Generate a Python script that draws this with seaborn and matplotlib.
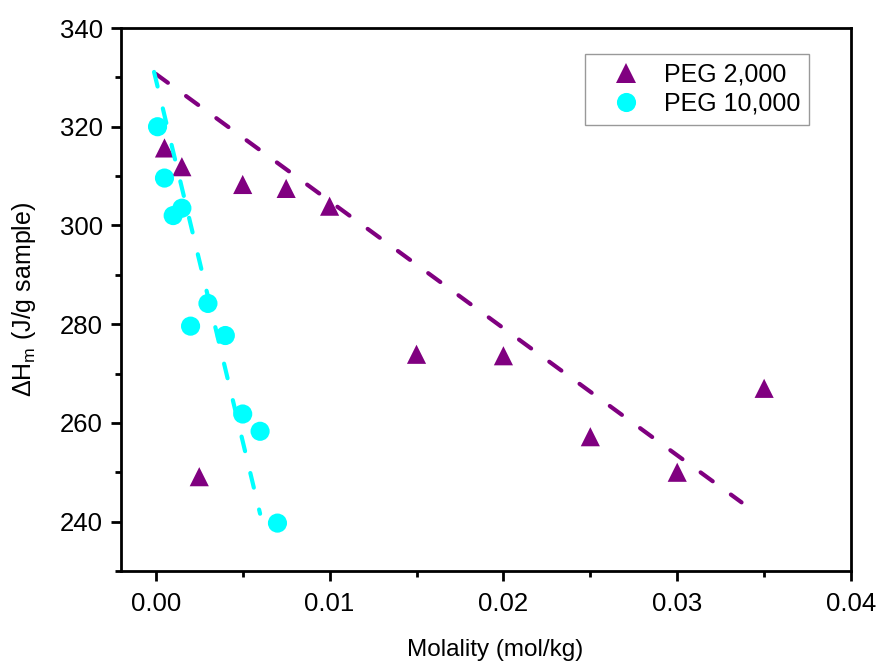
import pandas as pd
import matplotlib
matplotlib.use('Agg')
import matplotlib.pyplot as plt
from matplotlib.ticker import MultipleLocator, FormatStrFormatter
import seaborn as sns

# PEG 2,000 measurements
peg2k_x = [0.0005, 0.0015, 0.0025, 0.005, 0.0075, 0.01, 0.015, 0.02, 0.025, 0.03, 0.035]
peg2k_y = [315.7, 311.9, 249.1, 308.3, 307.5, 303.9, 273.9, 273.6, 257.2, 250.0, 267.0]

# PEG 10,000 measurements
peg10k_x = [0.0001, 0.0005, 0.001, 0.0015, 0.002, 0.003, 0.004, 0.005, 0.006, 0.007]
peg10k_y = [320.0, 309.6, 302.0, 303.5, 279.6, 284.2, 277.7, 261.8, 258.3, 239.7]

# dashed trend lines (end points)
fit2k_x = [0.0, 0.0337]
fit2k_y = [330.7, 243.9]
fit10k_x = [-0.0001, 0.006]
fit10k_y = [331.1, 241.6]

labels = ['PEG 2,000', 'PEG 10,000']
colors = ['#800080', '#00FFFF']

df = pd.DataFrame({
    'x': peg2k_x + peg10k_x,
    'y': peg2k_y + peg10k_y,
    'series': [labels[0]] * len(peg2k_x) + [labels[1]] * len(peg10k_x),
})

sns.set_style('white')
plt.rcParams['font.family'] = ['Liberation Sans', 'DejaVu Sans']
plt.rcParams['mathtext.default'] = 'regular'
plt.rcParams['text.color'] = 'black'
plt.rcParams['axes.labelcolor'] = 'black'

fig = plt.figure(figsize=(8.79, 6.62), dpi=100)
ax = fig.add_axes([0.1377, 0.1375, 0.8305, 0.8202])

sns.lineplot(x=fit2k_x, y=fit2k_y, ax=ax, color=colors[0], linewidth=3.0, legend=False)
sns.lineplot(x=fit10k_x, y=fit10k_y, ax=ax, color=colors[1], linewidth=3.0, legend=False)
for ln in ax.get_lines():
    ln.set_linewidth(3.0)
    ln.set_dashes((3.6, 5.4))
    ln.set_dash_capstyle('round')

sns.scatterplot(data=df, x='x', y='y', hue='series', style='series',
                markers={labels[0]: '^', labels[1]: 'o'},
                palette=dict(zip(labels, colors)),
                s=190, linewidth=0, ax=ax)

ax.set_xlim(-0.002, 0.04)
ax.set_ylim(230, 340)
ax.xaxis.set_major_locator(MultipleLocator(0.01))
ax.xaxis.set_minor_locator(MultipleLocator(0.005))
ax.yaxis.set_major_locator(MultipleLocator(20))
ax.yaxis.set_minor_locator(MultipleLocator(10))
ax.xaxis.set_major_formatter(FormatStrFormatter('%.2f'))

for sp in ax.spines.values():
    sp.set_color('black')
    sp.set_linewidth(2.0)
ax.tick_params(which='both', direction='out', width=2.0, labelsize=18.5,
               bottom=True, left=True, top=False, right=False, colors='black')
ax.tick_params(which='major', length=7)
ax.tick_params(axis='x', which='major', pad=8)
ax.tick_params(axis='y', which='major', pad=6)
ax.tick_params(which='minor', length=4.5)

ax.set_xlabel('Molality (mol/kg)', fontsize=17.5, labelpad=17)
ax.set_ylabel(r'$\Delta$H$_m$ (J/g sample)', fontsize=18, labelpad=16)
ax.xaxis.label.set_x(0.512)

handles, hl = ax.get_legend_handles_labels()
leg = ax.legend(handles, hl, loc='upper right', bbox_to_anchor=(0.942, 0.952),
                fontsize=18, frameon=True, fancybox=False, edgecolor='#808080',
                handlelength=2.6, handletextpad=0.2, borderpad=0.35,
                labelspacing=0.2, borderaxespad=0, markerscale=1.0)
leg.get_frame().set_linewidth(1.0)

fig.savefig('out.png', dpi=100)
